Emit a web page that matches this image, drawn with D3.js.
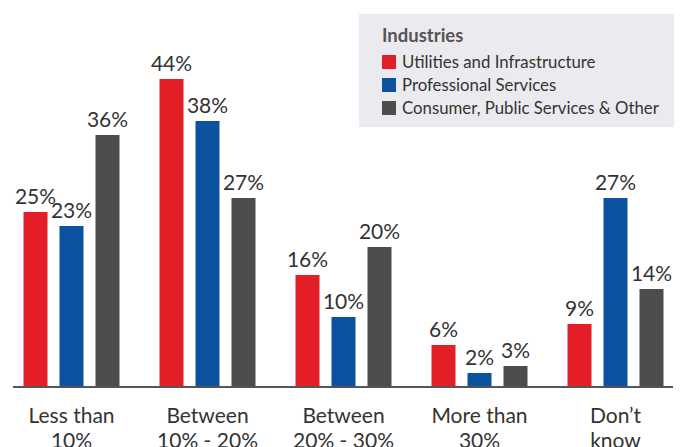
<!DOCTYPE html>
<html>
<head>
<meta charset="utf-8">
<script src="https://cdn.jsdelivr.net/npm/d3@7/dist/d3.min.js"></script>
<style>
  html, body { margin: 0; padding: 0; background: #fff; }
  svg { display: block; font-family: Lato, "Open Sans", sans-serif; }
</style>
</head>
<body>
<svg id="chart" width="685" height="447"></svg>
<script>
// Share of respondents by category and industry
const categories = [
  ["Less than", "10%"],
  ["Between", "10% - 20%"],
  ["Between", "20% - 30%"],
  ["More than", "30%"],
  ["Don\u2019t", "know"]
];
const seriesNames = [
  "Utilities and Infrastructure",
  "Professional Services",
  "Consumer, Public Services & Other"
];
const utilities    = [25, 44, 16, 6, 9];
const professional = [23, 38, 10, 2, 27];
const consumer     = [36, 27, 20, 3, 14];
const seriesValues = [utilities, professional, consumer];
const colors = ["#e31e26", "#0b539e", "#4d4d4d"];

const svg = d3.select("#chart");
const baseY = 387;

const catKeys = categories.map((c, i) => i);
const x0 = d3.scaleBand().domain(catKeys).range([3.5, 683.5]).padding(0);
const x1 = d3.scaleBand().domain(d3.range(seriesNames.length))
  .range([-54, 54]).paddingInner(1 / 3).paddingOuter(1 / 6);
const y = d3.scaleLinear().domain([0, 50]).range([baseY, 37]);

const groups = svg.append("g").selectAll("g")
  .data(catKeys)
  .join("g")
  .attr("transform", i => `translate(${x0(i) + x0.bandwidth() / 2},0)`);

const cells = groups.selectAll("g.bar")
  .data(i => seriesValues.map((vals, s) => ({ s, v: vals[i] })))
  .join("g").attr("class", "bar");

cells.append("rect")
  .attr("x", d => x1(d.s))
  .attr("width", x1.bandwidth())
  .attr("y", d => y(d.v))
  .attr("height", d => baseY - y(d.v))
  .attr("fill", d => colors[d.s]);

cells.append("text")
  .attr("x", d => x1(d.s) + x1.bandwidth() / 2)
  .attr("y", d => y(d.v) - 8)
  .attr("text-anchor", "middle")
  .attr("font-size", 21)
  .attr("fill", "#333")
  .text(d => d.v + "%");

// baseline
svg.append("line")
  .attr("x1", 13).attr("x2", 673)
  .attr("y1", baseY).attr("y2", baseY)
  .attr("stroke", "#555").attr("stroke-width", 2);

// category labels
groups.append("text")
  .attr("text-anchor", "middle")
  .attr("font-size", 21)
  .attr("fill", "#333")
  .selectAll("tspan")
  .data(i => categories[i])
  .join("tspan")
  .attr("x", 0)
  .attr("y", (d, k) => 423 + k * 25)
  .text(d => d);

// legend
const legend = svg.append("g");
legend.append("rect")
  .attr("x", 359).attr("y", 14)
  .attr("width", 315).attr("height", 113)
  .attr("fill", "#ebebef");
legend.append("text")
  .attr("x", 382).attr("y", 42)
  .attr("font-size", 18.5).attr("font-weight", "bold")
  .attr("fill", "#555")
  .text("Industries");
const items = legend.selectAll("g.item")
  .data(seriesNames)
  .join("g").attr("class", "item")
  .attr("transform", (d, i) => `translate(382,${68 + i * 23})`);
items.append("rect")
  .attr("x", 0).attr("y", -13)
  .attr("width", 14).attr("height", 14)
  .attr("fill", (d, i) => colors[i]);
items.append("text")
  .attr("x", 20).attr("y", 0)
  .attr("font-size", 16.8)
  .attr("fill", "#333")
  .text(d => d);
</script>
</body>
</html>
